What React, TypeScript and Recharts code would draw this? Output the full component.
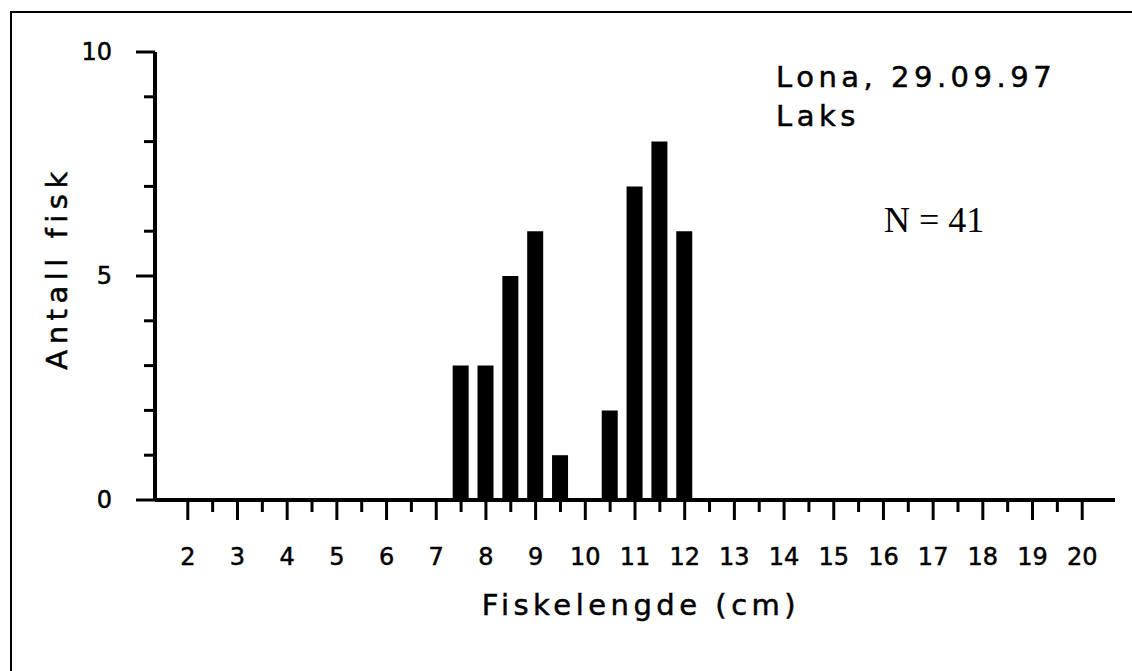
import { BarChart, Bar, XAxis, YAxis } from 'recharts';

// fish length classes (cm), 0.5 cm steps
const lengths = [
  2, 2.5, 3, 3.5, 4, 4.5, 5, 5.5, 6, 6.5, 7, 7.5, 8, 8.5, 9, 9.5, 10, 10.5, 11,
  11.5, 12, 12.5, 13, 13.5, 14, 14.5, 15, 15.5, 16, 16.5, 17, 17.5, 18, 18.5, 19, 19.5, 20,
];
// antall fisk per lengdeklasse
const counts = [
  0, 0, 0, 0, 0, 0, 0, 0, 0, 0, 0, 3, 3, 5, 6, 1, 0, 2, 7,
  8, 6, 0, 0, 0, 0, 0, 0, 0, 0, 0, 0, 0, 0, 0, 0, 0, 0,
];
const yTicks = [0, 1, 2, 3, 4, 5, 6, 7, 8, 9, 10];

const data = lengths.map((len, i) => ({ len, n: counts[i] }));

const FONT = '"DejaVu Sans", Verdana, sans-serif';
// litt tykkere strek for å ligne på bitmap-fonten
const heavy = { stroke: '#000', strokeWidth: 0.5 };

const XTick = (props: any) => {
  const { x, y, payload } = props;
  const major = Number.isInteger(payload.value);
  return (
    <g>
      <line x1={x} x2={x} y1={y} y2={y + (major ? 20 : 12)} stroke="#000" strokeWidth={3} />
      {major && (
        <text
          x={x}
          y={y + 57}
          textAnchor="middle"
          dominantBaseline="central"
          fontFamily={FONT}
          fontSize={24}
          fill="#000"
          {...heavy}
        >
          {payload.value}
        </text>
      )}
    </g>
  );
};

const YTick = (props: any) => {
  const { x, y, payload } = props;
  const major = payload.value % 5 === 0;
  return (
    <g>
      <line x1={x - (major ? 19 : 11)} x2={x} y1={y} y2={y} stroke="#000" strokeWidth={3} />
      {major && (
        <text
          x={x - 43}
          y={y}
          textAnchor="end"
          dominantBaseline="central"
          fontFamily={FONT}
          fontSize={24}
          fill="#000"
          {...heavy}
        >
          {payload.value}
        </text>
      )}
    </g>
  );
};

export default function App() {
  return (
    <div style={{ position: 'absolute', left: 0, top: 0, width: 1132, height: 671, background: '#fff', overflow: 'hidden' }}>
      {/* ramme rundt figuren (bare topp og venstre synlig) */}
      <div
        style={{
          position: 'absolute',
          left: 10,
          top: 11,
          width: 1140,
          height: 680,
          borderTop: '2px solid #000',
          borderLeft: '2px solid #000',
        }}
      />
      <BarChart
        width={1132}
        height={671}
        data={data}
        margin={{ top: 52, right: 17, left: 95, bottom: 70 }}
        style={{ position: 'absolute', left: 0, top: 0 }}
      >
        <XAxis
          dataKey="len"
          type="number"
          domain={[1.34, 20.66]}
          ticks={lengths}
          interval={0}
          tick={<XTick />}
          tickSize={0}
          tickMargin={0}
          tickLine={false}
          axisLine={{ stroke: '#000', strokeWidth: 4 }}
          height={101}
          allowDataOverflow
        />
        <YAxis
          type="number"
          domain={[0, 10]}
          ticks={yTicks}
          interval={0}
          tick={<YTick />}
          tickSize={0}
          tickMargin={0}
          tickLine={false}
          axisLine={{ stroke: '#000', strokeWidth: 4 }}
          width={60}
        />
        <Bar dataKey="n" fill="#000" barSize={16} isAnimationActive={false} />
      </BarChart>
      <svg width={1132} height={671} style={{ position: 'absolute', left: 0, top: 0, pointerEvents: 'none' }}>
        <text x={776} y={87} fontFamily={FONT} fontSize={29} letterSpacing={4.5} fill="#000" {...heavy}>
          Lona, 29.09.97
        </text>
        <text x={776} y={126} fontFamily={FONT} fontSize={29} letterSpacing={4.5} fill="#000" {...heavy}>
          Laks
        </text>
        <text x={884} y={232} fontFamily='"Liberation Serif", "Times New Roman", serif' fontSize={36} fill="#000">
          N = 41
        </text>
        <text x={641} y={615} textAnchor="middle" fontFamily={FONT} fontSize={29} letterSpacing={4.5} fill="#000" {...heavy}>
          Fiskelengde (cm)
        </text>
        <text
          x={0}
          y={0}
          transform="translate(67 268) rotate(-90)"
          textAnchor="middle"
          fontFamily={FONT}
          fontSize={29}
          letterSpacing={5.5}
          fill="#000"
          {...heavy}
        >
          Antall fisk
        </text>
      </svg>
    </div>
  );
}
